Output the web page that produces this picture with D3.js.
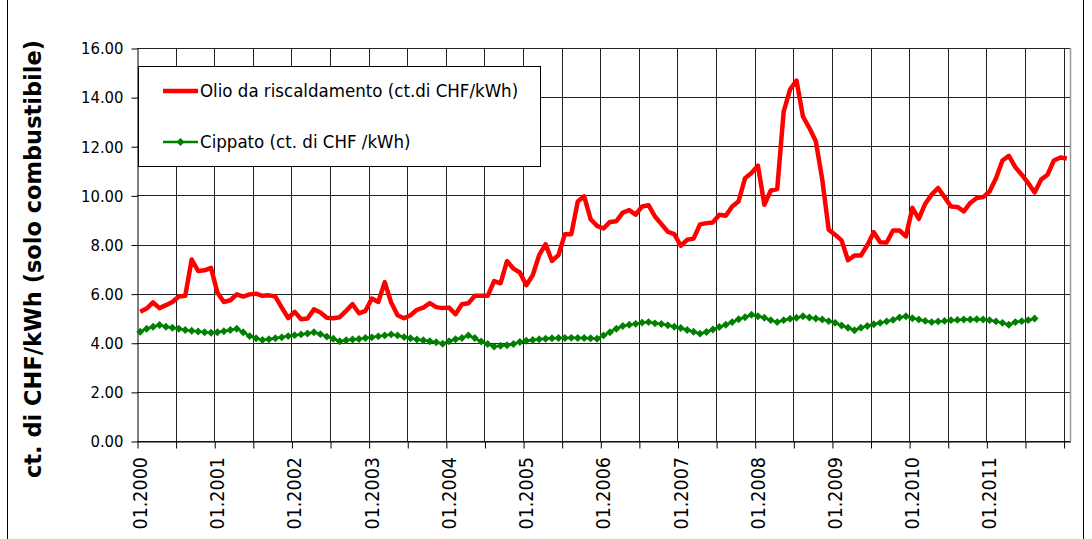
<!DOCTYPE html>
<html>
<head>
<meta charset="UTF-8">
<title>Olio vs Cippato</title>
<script src="https://cdn.jsdelivr.net/npm/d3@7"></script>
<style>
  body { margin: 0; background: #fff; }
  text { font-family: "DejaVu Sans", sans-serif; font-stretch: condensed; fill: #000; }
</style>
</head>
<body>
<svg id="chart" width="1092" height="539"></svg>
<script>
// etichette dell'asse x (una ogni 12 mesi)
const yearLabels = ["01.2000", "01.2001", "01.2002", "01.2003", "01.2004", "01.2005",
    "01.2006", "01.2007", "01.2008", "01.2009", "01.2010", "01.2011"];
const nMonths = 145; // 01.2000 .. 01.2012
const yTicks = [0, 2, 4, 6, 8, 10, 12, 14, 16];

// Olio da riscaldamento, valori mensili (ct. di CHF/kWh)
const olio = [
    5.26, 5.39, 5.64, 5.41, 5.53, 5.66, 5.88, 5.91, 7.39, 6.92, 6.95, 7.05,
    6.04, 5.66, 5.73, 5.97, 5.88, 5.97, 6.00, 5.91, 5.93, 5.88, 5.43, 5.00,
    5.26, 4.96, 4.99, 5.36, 5.23, 5.02, 5.00, 5.04, 5.30, 5.57, 5.20, 5.30,
    5.80, 5.66, 6.47, 5.64, 5.12, 5.00, 5.12, 5.34, 5.43, 5.61, 5.45, 5.41,
    5.43, 5.16, 5.57, 5.61, 5.91, 5.91, 5.91, 6.51, 6.42, 7.32, 7.02, 6.86,
    6.34, 6.75, 7.57, 8.01, 7.33, 7.57, 8.42, 8.42, 9.75, 9.96, 9.03, 8.76,
    8.65, 8.92, 8.95, 9.30, 9.40, 9.22, 9.55, 9.60, 9.14, 8.83, 8.52, 8.42,
    7.95, 8.19, 8.24, 8.82, 8.87, 8.90, 9.21, 9.17, 9.55, 9.76, 10.70, 10.91,
    11.21, 9.62, 10.20, 10.26, 13.41, 14.32, 14.67, 13.21, 12.74, 12.20, 10.64, 8.60,
    8.40, 8.17, 7.36, 7.55, 7.55, 7.97, 8.50, 8.09, 8.08, 8.57, 8.57, 8.33,
    9.49, 9.04, 9.66, 10.03, 10.30, 9.93, 9.55, 9.53, 9.35, 9.69, 9.89, 9.93,
    10.16, 10.70, 11.42, 11.61, 11.15, 10.84, 10.50, 10.12, 10.64, 10.84, 11.42, 11.54,
    11.50
];

// Cippato, valori mensili (ct. di CHF/kWh), fino a 08.2011
const cippato = [
    4.45, 4.57, 4.65, 4.72, 4.65, 4.61, 4.57, 4.52, 4.49, 4.46, 4.43, 4.41,
    4.43, 4.47, 4.52, 4.57, 4.43, 4.27, 4.18, 4.11, 4.14, 4.18, 4.22, 4.27,
    4.31, 4.34, 4.38, 4.43, 4.35, 4.25, 4.16, 4.06, 4.10, 4.13, 4.15, 4.19,
    4.22, 4.26, 4.30, 4.34, 4.30, 4.23, 4.18, 4.13, 4.10, 4.06, 4.02, 3.96,
    4.06, 4.14, 4.19, 4.30, 4.19, 4.05, 3.95, 3.85, 3.88, 3.90, 3.95, 4.03,
    4.08, 4.11, 4.14, 4.16, 4.18, 4.19, 4.19, 4.20, 4.19, 4.19, 4.18, 4.16,
    4.30, 4.43, 4.57, 4.68, 4.73, 4.77, 4.82, 4.84, 4.79, 4.76, 4.71, 4.65,
    4.60, 4.52, 4.45, 4.37, 4.44, 4.54, 4.64, 4.73, 4.84, 4.96, 5.04, 5.14,
    5.08, 5.02, 4.92, 4.84, 4.92, 4.98, 5.02, 5.08, 5.03, 4.99, 4.95, 4.88,
    4.81, 4.70, 4.61, 4.51, 4.61, 4.68, 4.75, 4.81, 4.87, 4.93, 5.03, 5.08,
    5.00, 4.95, 4.89, 4.84, 4.87, 4.89, 4.92, 4.93, 4.95, 4.95, 4.96, 4.95,
    4.92, 4.87, 4.81, 4.73, 4.84, 4.88, 4.92, 4.99
];

const legendLabels = ["Olio da riscaldamento (ct.di CHF/kWh)", "Cippato (ct. di CHF /kWh)"];

const svg = d3.select("#chart");
const plotLeft = 137, plotRight = 1070, plotTop = 48, plotBottom = 441;

const x = d3.scaleLinear().domain([0, nMonths]).range([plotLeft, plotRight]);
const y = d3.scaleLinear().domain([0, 16]).range([plotBottom, plotTop]);

// cornice esterna
svg.append("rect")
    .attr("x", 7.5).attr("y", -2).attr("width", 1076).attr("height", 545)
    .attr("fill", "none").attr("stroke", "#000");

// griglia orizzontale
svg.append("g").selectAll("line").data(yTicks).join("line")
    .attr("x1", plotLeft).attr("x2", plotRight)
    .attr("y1", d => Math.round(y(d)) + 0.5).attr("y2", d => Math.round(y(d)) + 0.5)
    .attr("stroke", "#222");

// griglia verticale ogni 6 mesi
const monthTicks = d3.range(0, nMonths, 6);
svg.append("g").selectAll("line").data(monthTicks.slice(1)).join("line")
    .attr("x1", d => Math.round(x(d)) + 0.5).attr("x2", d => Math.round(x(d)) + 0.5)
    .attr("y1", plotTop).attr("y2", plotBottom)
    .attr("stroke", "#222");

// bordo destro area del grafico
svg.append("line")
    .attr("x1", plotRight + 0.5).attr("x2", plotRight + 0.5).attr("y1", plotTop).attr("y2", plotBottom)
    .attr("stroke", "#999").attr("stroke-width", 1.5);

// asse y
const yAxis = svg.append("g")
    .attr("transform", `translate(${plotLeft + 0.5},0.5)`)
    .call(d3.axisLeft(y).tickValues(yTicks).tickFormat(d3.format(".2f")).tickSize(6).tickSizeOuter(0).tickPadding(8));
yAxis.select(".domain").attr("stroke", "#000");
yAxis.selectAll(".tick line").attr("stroke", "#000");
yAxis.selectAll("text").attr("font-size", 16.5).attr("font-family", null);

// asse x
const xAxis = svg.append("g")
    .attr("transform", `translate(0.5,${plotBottom + 0.5})`)
    .call(d3.axisBottom(x).tickValues(monthTicks).tickFormat("").tickSize(7).tickSizeOuter(0));
xAxis.select(".domain").attr("stroke", "#000");
xAxis.selectAll(".tick line").attr("stroke", "#000");

svg.append("g").selectAll("text").data(yearLabels).join("text")
    .attr("transform", (d, i) => `translate(${x(i * 12 + 0.5)},457) rotate(-90)`)
    .attr("text-anchor", "end")
    .attr("dy", "0.35em")
    .attr("font-size", 19.5)
    .text(d => d);

// titolo asse y
svg.append("text")
    .attr("transform", "translate(33,259) rotate(-90)")
    .attr("text-anchor", "middle")
    .attr("dy", "0.35em")
    .attr("font-size", 22.5)
    .attr("font-weight", "bold")
    .style("font-stretch", "normal")
    .text("ct. di CHF/kWh (solo combustibile)");

// serie
const line = d3.line().x((d, i) => x(i + 0.5)).y(d => y(d));

svg.append("path").datum(olio)
    .attr("d", line)
    .attr("fill", "none").attr("stroke", "#ff0000")
    .attr("stroke-width", 4.5).attr("stroke-linejoin", "round");

svg.append("path").datum(cippato)
    .attr("d", line)
    .attr("fill", "none").attr("stroke", "#008000").attr("stroke-width", 2.5);

const diamond = d3.symbol(d3.symbolDiamond2, 40);
svg.append("g").selectAll("path").data(cippato).join("path")
    .attr("transform", (d, i) => `translate(${x(i + 0.5)},${y(d)})`)
    .attr("d", diamond)
    .attr("fill", "#008000");

// legenda
const lg = svg.append("g");
lg.append("rect")
    .attr("x", 138.5).attr("y", 66.5).attr("width", 402).attr("height", 100)
    .attr("fill", "#fff").attr("stroke", "#000");
lg.append("line").attr("x1", 163).attr("x2", 198).attr("y1", 91).attr("y2", 91)
    .attr("stroke", "#ff0000").attr("stroke-width", 4.5);
lg.append("line").attr("x1", 163).attr("x2", 198).attr("y1", 142).attr("y2", 142)
    .attr("stroke", "#008000").attr("stroke-width", 2.5);
lg.append("path").attr("transform", "translate(180.5,142)").attr("d", diamond).attr("fill", "#008000");
lg.selectAll("text").data(legendLabels).join("text")
    .attr("x", 200).attr("y", (d, i) => i === 0 ? 91 : 142)
    .attr("dy", "0.35em")
    .attr("font-size", 18.5)
    .text(d => d);
</script>
</body>
</html>
